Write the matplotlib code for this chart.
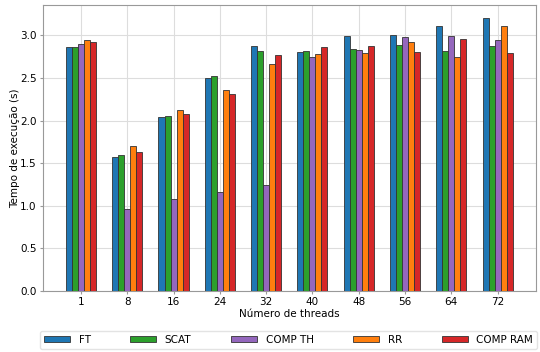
import matplotlib
matplotlib.use("Agg")
import matplotlib.pyplot as plt
import numpy as np

threads = ["1", "8", "16", "24", "32", "40", "48", "56", "64", "72"]
series_names = ["FT", "SCAT", "COMP TH", "RR", "COMP RAM"]
ft = [2.86, 1.57, 2.04, 2.50, 2.87, 2.80, 2.99, 3.00, 3.11, 3.20]
scat = [2.86, 1.60, 2.05, 2.52, 2.82, 2.82, 2.84, 2.89, 2.82, 2.87]
comp_th = [2.90, 0.96, 1.08, 1.16, 1.24, 2.74, 2.83, 2.98, 2.99, 2.95]
rr = [2.94, 1.70, 2.12, 2.36, 2.66, 2.78, 2.79, 2.92, 2.75, 3.11]
comp_ram = [2.92, 1.63, 2.08, 2.31, 2.77, 2.86, 2.87, 2.80, 2.96, 2.79]
values = [ft, scat, comp_th, rr, comp_ram]
colors = ["#1f77b4", "#2ca02c", "#9467bd", "#ff7f0e", "#d62728"]

fig = plt.figure(figsize=(5.4, 3.52), dpi=100)
ax = fig.add_axes([43/540, 1-291/352, (536-43)/540, (291-5)/352])
x = np.arange(len(threads))
w = 0.13
for i, (name, vals, c) in enumerate(zip(series_names, values, colors)):
    ax.bar(x + (i - 2) * w, vals, w, color=c, edgecolor="#333333", linewidth=0.6, label=name, zorder=3)
ax.set_xticks(x)
ax.set_xticklabels(threads)
ax.set_xlim(-0.82, 9.83)
ax.set_ylim(0, 3.355)
ax.set_yticks(np.arange(0, 3.01, 0.5))
ax.grid(True, color="#dddddd", linewidth=0.8, zorder=0)
ax.tick_params(labelsize=7.5, length=2.5, color="#999999", pad=2)
ax.set_xlabel("Número de threads", fontsize=7.5, labelpad=1)
ax.set_ylabel("Tempo de execução (s)", fontsize=7.5, labelpad=0)
for s in ax.spines.values():
    s.set_color("#999999")
fig.legend(loc="lower left", bbox_to_anchor=(40/540, 3/352, (537-40)/540, 20/352),
           ncol=5, mode="expand", fontsize=7.5, frameon=True, handlelength=2.5,
           handleheight=0.6, borderaxespad=0, edgecolor="#dddddd", fancybox=True)
fig.savefig("out.png", dpi=100)
